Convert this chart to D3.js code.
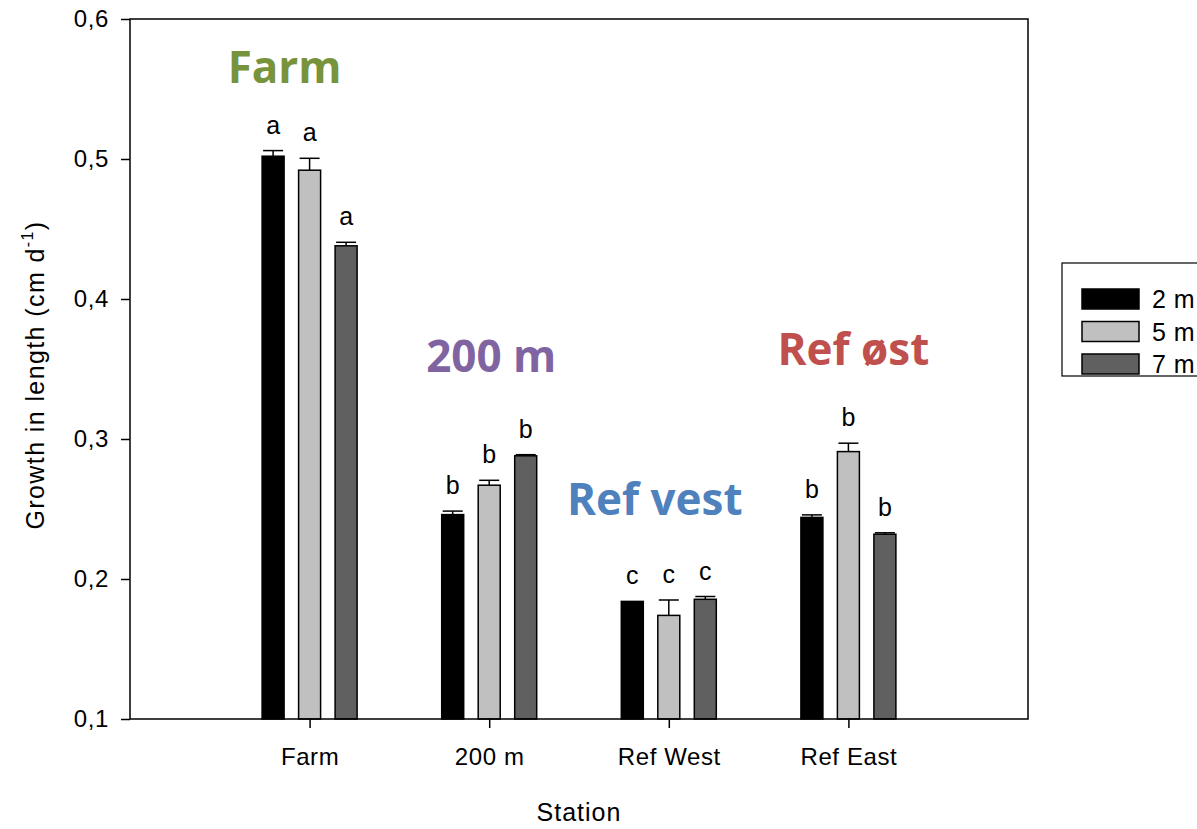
<!DOCTYPE html>
<html>
<head>
<meta charset="utf-8">
<script src="https://cdn.jsdelivr.net/npm/d3@7"></script>
<style>
  body { margin: 0; background: #fff; }
  svg { display: block; }
</style>
</head>
<body>
<div id="chart"></div>
<script>
// values
const stations = ["Farm", "200 m", "Ref West", "Ref East"];
const depths = ["2 m", "5 m", "7 m"];
const growth2m = [0.502, 0.246, 0.184, 0.244];
const growth5m = [0.492, 0.267, 0.174, 0.291];
const growth7m = [0.438, 0.288, 0.1855, 0.232];
const err2m = [0.004, 0.0025, 0.0, 0.0018];
const err5m = [0.0085, 0.0035, 0.011, 0.006];
const err7m = [0.0025, 0.0008, 0.002, 0.001];
const letters2m = ["a", "b", "c", "b"];
const letters5m = ["a", "b", "c", "b"];
const letters7m = ["a", "b", "c", "b"];
const yTicks = [0.1, 0.2, 0.3, 0.4, 0.5, 0.6];

const colors = ["#000000", "#c0c0c0", "#606060"];

// station titles drawn inside the plot (dx in px from station, y in data units)
const groupTitles = [
  { text: "Farm", color: "#77933c", dx: -25, y: 0.554 },
  { text: "200 m", color: "#8064a2", dx: 2, y: 0.348 },
  { text: "Ref vest", color: "#4f81bd", dx: -14, y: 0.246 },
  { text: "Ref øst", color: "#c0504d", dx: 5, y: 0.353 }
];

const width = 1197, height = 829;
const margin = { left: 130, right: 169, top: 19, bottom: 110 };
const sans = "'Liberation Sans', Arial, sans-serif";

const svg = d3.select("#chart").append("svg")
  .attr("width", width)
  .attr("height", height);

const x = d3.scalePoint()
  .domain(stations)
  .range([margin.left, width - margin.right])
  .padding(1);

const y = d3.scaleLinear()
  .domain([0.1, 0.6])
  .range([height - margin.bottom, margin.top]);

const rows = [];
stations.forEach((s, i) => {
  const vals = [growth2m[i], growth5m[i], growth7m[i]];
  const errs = [err2m[i], err5m[i], err7m[i]];
  const lets = [letters2m[i], letters5m[i], letters7m[i]];
  depths.forEach((d, j) => {
    rows.push({ station: s, depth: d, j: j, value: vals[j], err: errs[j], letter: lets[j] });
  });
});

const barW = 22, barStep = 36.5, capW = 20;
const bx = d => x(d.station) + (d.j - 1) * barStep;

// bars
svg.append("g")
  .selectAll("rect")
  .data(rows)
  .enter()
  .append("rect")
  .attr("x", d => bx(d) - barW / 2)
  .attr("y", d => y(d.value))
  .attr("width", barW)
  .attr("height", d => y(0.1) - y(d.value))
  .attr("fill", d => colors[d.j])
  .attr("stroke", "#000")
  .attr("stroke-width", 1.5);

// upper error bars
const eb = svg.append("g").attr("stroke", "#000").attr("stroke-width", 1.5);
rows.filter(d => d.err > 0).forEach(d => {
  eb.append("line")
    .attr("x1", bx(d)).attr("x2", bx(d))
    .attr("y1", y(d.value)).attr("y2", y(d.value + d.err));
  eb.append("line")
    .attr("x1", bx(d) - capW / 2).attr("x2", bx(d) + capW / 2)
    .attr("y1", y(d.value + d.err)).attr("y2", y(d.value + d.err));
});

// significance letters
svg.append("g")
  .selectAll("text")
  .data(rows)
  .enter()
  .append("text")
  .attr("x", d => bx(d))
  .attr("y", d => y(d.value + d.err) - 17)
  .attr("text-anchor", "middle")
  .attr("font-family", sans)
  .attr("font-size", 25)
  .text(d => d.letter);

// frame
svg.append("rect")
  .attr("x", margin.left)
  .attr("y", margin.top)
  .attr("width", width - margin.right - margin.left)
  .attr("height", height - margin.bottom - margin.top)
  .attr("fill", "none")
  .attr("stroke", "#000")
  .attr("stroke-width", 1.5);

// axes
const fmt = d => d3.format(".1f")(d).replace(".", ",");
const yAxis = svg.append("g")
  .attr("transform", `translate(${margin.left},0)`)
  .call(d3.axisLeft(y).tickValues(yTicks).tickFormat(fmt).tickSize(9).tickPadding(12));

const xAxis = svg.append("g")
  .attr("transform", `translate(0,${height - margin.bottom})`)
  .call(d3.axisBottom(x).tickSize(9).tickPadding(20));

[yAxis, xAxis].forEach(a => {
  a.select(".domain").remove();
  a.selectAll("line").attr("stroke", "#000").attr("stroke-width", 1.5);
  a.selectAll("text")
    .attr("fill", "#000")
    .attr("font-family", sans)
    .attr("font-size", 24)
    .attr("letter-spacing", 0.6);
});

// axis titles
svg.append("text")
  .attr("x", x("200 m") + (x("Ref West") - x("200 m")) / 2)
  .attr("y", 821)
  .attr("text-anchor", "middle")
  .attr("font-family", sans)
  .attr("font-size", 25)
  .attr("letter-spacing", 1)
  .text("Station");

const yt = svg.append("text")
  .attr("transform", `translate(44,${(margin.top + height - margin.bottom) / 2 + 6}) rotate(-90)`)
  .attr("text-anchor", "middle")
  .attr("font-family", sans)
  .attr("font-size", 25)
  .attr("letter-spacing", 1.4);
yt.append("tspan").text("Growth in length (cm d");
yt.append("tspan").attr("font-size", 16).attr("dy", -11).text("-1");
yt.append("tspan").attr("dy", 11).text(")");

// station titles
svg.append("g")
  .selectAll("text")
  .data(groupTitles)
  .enter()
  .append("text")
  .attr("x", (d, i) => x(stations[i]) + d.dx)
  .attr("y", d => y(d.y))
  .attr("text-anchor", "middle")
  .attr("font-family", "'Open Sans', Lato, sans-serif")
  .attr("font-weight", "bold")
  .attr("font-size", 44)
  .attr("fill", d => d.color)
  .text(d => d.text);

// legend
const legend = svg.append("g");
legend.append("rect")
  .attr("x", 1062).attr("y", 263)
  .attr("width", 150).attr("height", 113)
  .attr("fill", "#fff")
  .attr("stroke", "#000")
  .attr("stroke-width", 1.2);
depths.forEach((d, j) => {
  const cy = 299 + j * 32.5;
  legend.append("rect")
    .attr("x", 1082).attr("y", cy - 10)
    .attr("width", 57).attr("height", 20)
    .attr("fill", colors[j])
    .attr("stroke", "#000")
    .attr("stroke-width", 1.5);
  legend.append("text")
    .attr("x", 1152).attr("y", cy + 9)
    .attr("font-family", sans)
    .attr("font-size", 25)
    .attr("letter-spacing", 0.5)
    .text(d);
});
</script>
</body>
</html>
